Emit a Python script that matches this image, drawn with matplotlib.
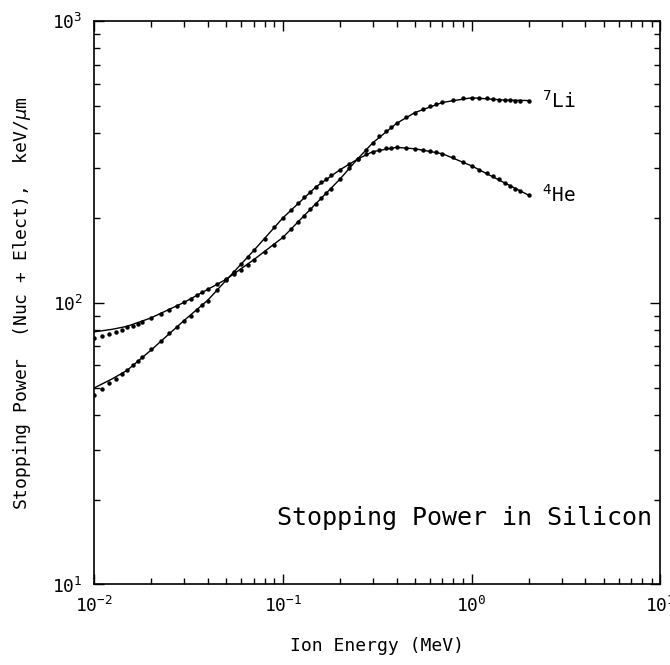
import numpy as np
import matplotlib
matplotlib.use('Agg')
import matplotlib.pyplot as plt
from matplotlib.ticker import LogLocator, NullFormatter

plt.rcParams['font.family'] = ['DejaVu Sans Mono', 'DejaVu Sans']
plt.rcParams['mathtext.fontset'] = 'dejavusans'

# SRIM energy grid (keV)
energy_kev = [10, 11, 12, 13, 14, 15, 16, 17, 18, 20,
              22.5, 25, 27.5, 30, 32.5, 35, 37.5, 40, 45, 50,
              55, 60, 65, 70, 80, 90, 100,
              110, 120, 130, 140, 150, 160, 170, 180, 200,
              225, 250, 275, 300, 325, 350, 375, 400, 450, 500,
              550, 600, 650, 700, 800, 900, 1000,
              1100, 1200, 1300, 1400, 1500, 1600, 1700, 1800, 2000]

# stopping power (keV/um), table values
he4_dots = [47, 49.5, 51.8, 53.8, 55.8, 57.8, 60, 62.2, 64.3, 68.4,
            73.2, 77.9, 82.0, 86.3, 90, 94, 98, 101.7, 111, 120.5,
            129, 137, 145, 153.5, 169, 185, 200,
            214, 226, 237, 248, 258, 268, 276, 283, 296,
            311, 324, 336, 344, 349, 353, 355, 356, 355.5, 352,
            349, 346, 342, 338, 328, 317, 306,
            297, 289, 281, 274, 266, 260, 254, 249, 241]
li7_dots = [74.8, 76.3, 77.6, 79, 80.3, 81.7, 83, 84.3, 85.5, 88,
            91.2, 94.2, 97.3, 100.3, 103.3, 106.3, 109.2, 112, 116.5, 121,
            126, 131, 136.5, 142, 151.5, 160.5, 170.5,
            182, 193, 204, 214.5, 225, 235, 245, 254, 274,
            300, 325, 349, 370, 390, 407, 421, 433, 456, 473,
            487, 500, 509, 514, 524, 531, 534,
            534, 532, 529, 526, 524, 523, 521, 521, 522]

# fitted curves
fit_energy_mev = [0.01, 0.0125, 0.015, 0.02, 0.03, 0.04, 0.05, 0.07, 0.1,
                  0.15, 0.2, 0.25, 0.3, 0.4, 0.5, 0.7, 1.0, 1.5, 2.0]
he4_fit = [49.8, 53.7, 57.6, 67.8, 86.5, 102, 120, 153, 200,
           258, 296, 324, 344, 356, 352, 338, 306, 266, 241]
li7_fit = [78.8, 80.5, 82.5, 88.3, 100.3, 111.5, 121, 142, 170.5,
           225, 274, 325, 370, 433, 473, 514, 534, 524, 522]

energy_mev = np.array(energy_kev) / 1000.0

fig = plt.figure(figsize=(6.7, 6.65), dpi=100)
ax = fig.add_axes([0.1403, 0.1211, 0.8455, 0.8473])

ax.plot(fit_energy_mev, he4_fit, color='black', lw=1.0)
ax.plot(fit_energy_mev, li7_fit, color='black', lw=1.0)
ax.plot(energy_mev, he4_dots, 'o', color='black', ms=3.2, mew=0)
ax.plot(energy_mev, li7_dots, 'o', color='black', ms=3.2, mew=0)

ax.set_xscale('log')
ax.set_yscale('log')
ax.set_xlim(1e-2, 1e1)
ax.set_ylim(1e1, 1e3)

ax.xaxis.set_major_locator(LogLocator(base=10, numticks=10))
ax.yaxis.set_major_locator(LogLocator(base=10, numticks=10))
ax.xaxis.set_minor_locator(LogLocator(base=10, subs=np.arange(2, 10), numticks=20))
ax.yaxis.set_minor_locator(LogLocator(base=10, subs=np.arange(2, 10), numticks=20))
ax.xaxis.set_minor_formatter(NullFormatter())
ax.yaxis.set_minor_formatter(NullFormatter())

ax.tick_params(which='both', direction='in', top=True, right=True, width=1.0)
ax.tick_params(which='major', length=7, labelsize=13, pad=8)
ax.tick_params(which='minor', length=4.5)
for s in ax.spines.values():
    s.set_linewidth(1.2)

ax.set_xlabel('Ion Energy (MeV)', fontsize=13, labelpad=15)
ax.set_ylabel(r'Stopping Power  (Nuc + Elect),  keV/$\mu$m', fontsize=13, labelpad=14)

ax.text(0.323, 0.118, 'Stopping Power in Silicon', transform=ax.transAxes,
        fontsize=18, ha='left', va='center')
ax.text(2.35, li7_dots[-1], r'$^{7}$Li', fontsize=14, ha='left', va='center')
ax.text(2.35, he4_dots[-1], r'$^{4}$He', fontsize=14, ha='left', va='center')

fig.savefig('out.png', dpi=100)
